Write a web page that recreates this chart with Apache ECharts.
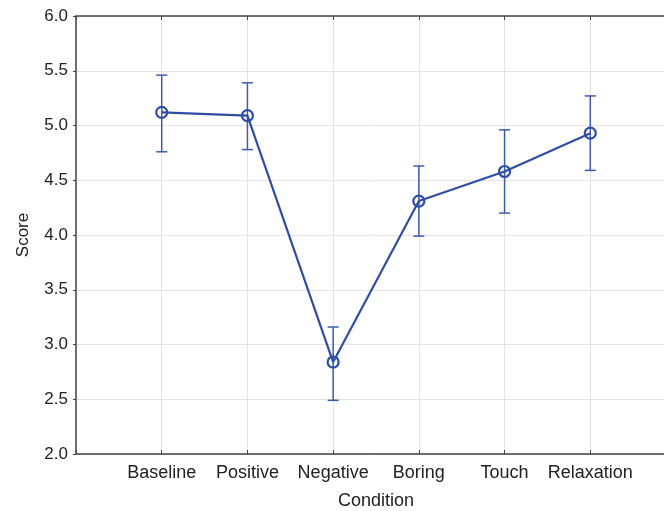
<!DOCTYPE html>
<html>
<head>
<meta charset="utf-8">
<script src="https://cdn.jsdelivr.net/npm/echarts@6/dist/echarts.min.js"></script>
<style>html,body{margin:0;padding:0;background:#fff}#c{width:664px;height:511px}</style>
</head>
<body>
<div id="c"></div>
<script>
var categories = ['Baseline', 'Positive', 'Negative', 'Boring', 'Touch', 'Relaxation'];
var means = [5.12, 5.09, 2.84, 4.31, 4.58, 4.93];
var lower = [4.76, 4.78, 2.49, 3.99, 4.20, 4.59];
var upper = [5.46, 5.39, 3.16, 4.63, 4.96, 5.27];
var yTicks = [2.0, 2.5, 3.0, 3.5, 4.0, 4.5, 5.0, 5.5, 6.0];

var lineColor = '#2f4ea3';
var barColor = '#3d5cab';
var font = 'Liberation Sans, Arial, sans-serif';

var meanData = means.map(function (v, i) { return [i + 1, v]; });
var errData = means.map(function (v, i) { return [i + 1, lower[i], upper[i]]; });

var chart = echarts.init(document.getElementById('c'), null, {renderer: 'canvas'});
chart.setOption({
  animation: false,
  backgroundColor: '#ffffff',
  grid: {left: 76, top: 16, width: 600, height: 438, containLabel: false, outerBoundsMode: 'none'},
  xAxis: [{
    type: 'value', min: 0, max: categories.length + 1, interval: 1,
    name: 'Condition', nameLocation: 'middle', nameGap: 38,
    nameTextStyle: {fontFamily: font, fontSize: 18, color: '#222'},
    axisLine: {show: true, onZero: false, lineStyle: {color: '#444', width: 1.5}},
    axisTick: {show: true, inside: true, length: 4, lineStyle: {color: '#444'}},
    axisLabel: {
      fontFamily: font, fontSize: 18, color: '#222', margin: 10,
      formatter: function (v) { return categories[v - 1] || ''; }
    },
    splitLine: {show: true, lineStyle: {color: '#e3e3e3', width: 1}}
  }, {
    type: 'value', position: 'top', min: 0, max: categories.length + 1, interval: 1,
    axisLine: {show: true, onZero: false, lineStyle: {color: '#444', width: 1.5}},
    axisTick: {show: true, inside: true, length: 4, lineStyle: {color: '#444'}},
    axisLabel: {show: false},
    splitLine: {show: false}
  }],
  yAxis: {
    type: 'value', min: yTicks[0], max: yTicks[yTicks.length - 1], interval: 0.5,
    name: 'Score', nameLocation: 'middle', nameGap: 44,
    nameTextStyle: {fontFamily: font, fontSize: 17, color: '#222'},
    axisLine: {show: true, lineStyle: {color: '#444', width: 1.5}},
    axisTick: {show: true, length: 3, lineStyle: {color: '#444'}},
    axisLabel: {
      fontFamily: font, fontSize: 17, color: '#222', margin: 8,
      formatter: function (v) { return v.toFixed(1); }
    },
    splitLine: {show: true, lineStyle: {color: '#e3e3e3', width: 1}}
  },
  series: [{
    type: 'custom',
    data: errData,
    z: 2,
    renderItem: function (params, api) {
      var x = api.value(0);
      var lo = api.coord([x, api.value(1)]);
      var hi = api.coord([x, api.value(2)]);
      var cap = 5.5;
      var st = {stroke: barColor, lineWidth: 1.5};
      return {
        type: 'group',
        children: [
          {type: 'line', shape: {x1: lo[0], y1: lo[1], x2: hi[0], y2: hi[1]}, style: st},
          {type: 'line', shape: {x1: lo[0] - cap, y1: lo[1], x2: lo[0] + cap, y2: lo[1]}, style: st},
          {type: 'line', shape: {x1: hi[0] - cap, y1: hi[1], x2: hi[0] + cap, y2: hi[1]}, style: st}
        ]
      };
    }
  }, {
    type: 'line',
    data: meanData,
    z: 3,
    symbol: 'circle',
    symbolSize: 11,
    showSymbol: true,
    lineStyle: {color: lineColor, width: 2.2},
    itemStyle: {color: 'rgba(255,255,255,0)', borderColor: lineColor, borderWidth: 2.2}
  }]
});
</script>
</body>
</html>
